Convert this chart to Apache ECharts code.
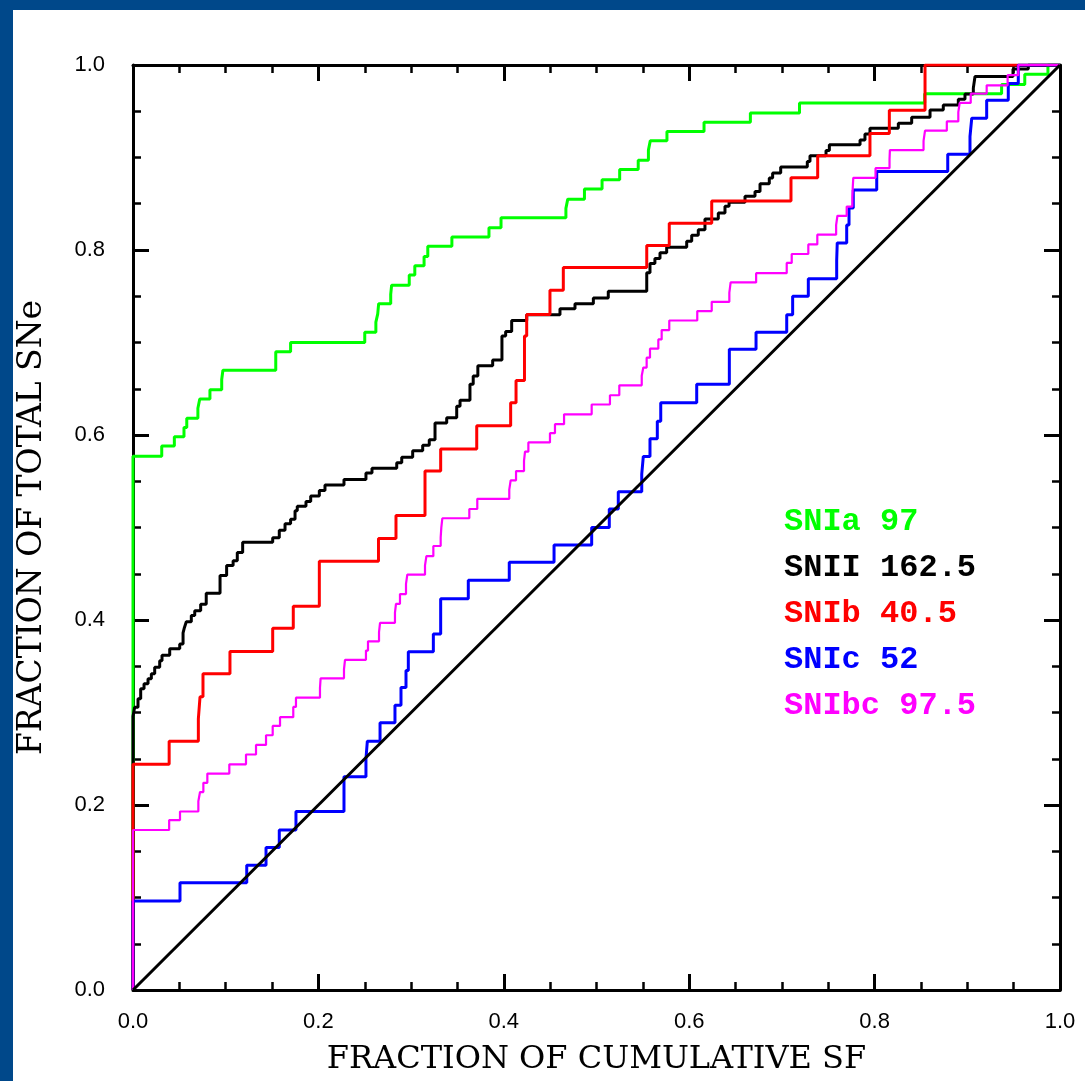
<!DOCTYPE html>
<html lang="en">
<head>
    <meta charset="UTF-8">
    <title>SN fraction vs cumulative SF</title>
    <script src="https://cdn.jsdelivr.net/npm/echarts@6/dist/echarts.min.js"></script>
    <style>
        body { margin: 0; background: #fff; }
        #main { width: 1085px; height: 1081px; }
    </style>
</head>
<body>
<div id="main"></div>
<script>
    // cumulative step curves: x = fraction of cumulative SF, y = fraction of total SNe
    var iaX = [0, 0.031, 0.0446, 0.055, 0.058, 0.070, 0.072, 0.083, 0.0957, 0.097, 0.154, 0.170, 0.250, 0.262, 0.264,
        0.265, 0.278, 0.279, 0.298, 0.304, 0.314, 0.318, 0.344, 0.384, 0.397, 0.467, 0.469, 0.487, 0.506, 0.525,
        0.545, 0.556, 0.558, 0.576, 0.616, 0.666, 0.719, 0.854, 0.937, 0.962, 0.987, 1.0];
    var iaY = [0.577, 0.588, 0.598, 0.608, 0.618, 0.629, 0.639, 0.649, 0.660, 0.670, 0.690, 0.700, 0.711, 0.722, 0.731,
        0.742, 0.752, 0.762, 0.773, 0.783, 0.793, 0.804, 0.814, 0.824, 0.835, 0.845, 0.855, 0.866, 0.876, 0.887,
        0.897, 0.908, 0.918, 0.928, 0.938, 0.948, 0.959, 0.969, 0.979, 0.990, 1.0, 1.0];

    var iiX = [0, 0.0018, 0.0054, 0.0083, 0.0119, 0.0162, 0.0198, 0.0234, 0.0288, 0.0313, 0.0396, 0.0504, 0.054, 0.0555,
        0.0575, 0.0629, 0.0666, 0.073, 0.079, 0.0939, 0.101, 0.108, 0.1125, 0.1183, 0.1507, 0.1578, 0.164, 0.170,
        0.1748, 0.1772, 0.1866, 0.1917, 0.201, 0.2071, 0.2276, 0.2513, 0.2578, 0.2845, 0.2899, 0.3017, 0.3125, 0.3196,
        0.3258, 0.3384, 0.3492, 0.3528, 0.3635, 0.367, 0.372, 0.388, 0.398, 0.402, 0.4085, 0.4247, 0.4606, 0.4768,
        0.4966, 0.5127, 0.5542, 0.5577, 0.563, 0.5685, 0.5757, 0.5973, 0.6027, 0.6098, 0.617, 0.6314, 0.6386, 0.643,
        0.6602, 0.671, 0.6764, 0.6864, 0.69, 0.6987, 0.7274, 0.7303, 0.7476, 0.7512, 0.7843, 0.7896, 0.795, 0.8256,
        0.84, 0.8598, 0.8741, 0.8903, 0.8975, 0.9065, 0.9083, 0.9493, 0.9658, 1.0];
    var iiY = [0.296, 0.3056, 0.315, 0.3258, 0.331, 0.3366, 0.342, 0.349, 0.356, 0.362, 0.369, 0.374, 0.386, 0.392,
        0.398, 0.405, 0.41, 0.417, 0.429, 0.448, 0.459, 0.464, 0.473, 0.484, 0.489, 0.497, 0.504, 0.509,
        0.518, 0.523, 0.528, 0.534, 0.540, 0.546, 0.552, 0.559, 0.564, 0.570, 0.576, 0.583, 0.589, 0.595,
        0.613, 0.6186, 0.631, 0.6375, 0.6548, 0.6637, 0.675, 0.681, 0.707, 0.712, 0.7238, 0.730, 0.7364, 0.742,
        0.748, 0.7555, 0.7753, 0.7853, 0.7907, 0.7969, 0.8029, 0.8094, 0.8159, 0.822, 0.8336, 0.84, 0.8472, 0.8515,
        0.858, 0.8633, 0.8716, 0.8778, 0.8832, 0.8896, 0.8957, 0.9018, 0.9075, 0.9137, 0.919, 0.9255, 0.9317, 0.937,
        0.9435, 0.9514, 0.9568, 0.963, 0.9687, 0.975, 0.9875, 0.9957, 1.0, 1.0];

    var ibX = [0, 0.039, 0.0705, 0.0723, 0.0755, 0.1046, 0.1507, 0.1729, 0.201, 0.2648, 0.2837, 0.315, 0.3319, 0.3708,
        0.4074, 0.4132, 0.4223, 0.4247, 0.4498, 0.4642, 0.5542, 0.5785, 0.6243, 0.7098, 0.7386, 0.795, 0.8159, 0.8544, 1.0];
    var ibY = [0.244, 0.269, 0.293, 0.317, 0.342, 0.366, 0.391, 0.415, 0.4636, 0.488, 0.513, 0.561, 0.585, 0.610,
        0.635, 0.659, 0.707, 0.7303, 0.7565, 0.781, 0.805, 0.829, 0.853, 0.878, 0.902, 0.926, 0.951, 1.0, 1.0];

    var icX = [0, 0.0507, 0.1227, 0.1435, 0.1578, 0.1758, 0.2276, 0.2513, 0.2528, 0.2665, 0.2826, 0.2891, 0.2945, 0.297,
        0.324, 0.3319, 0.3617, 0.4059, 0.4542, 0.4948, 0.5138, 0.5235, 0.5488, 0.5505, 0.5577, 0.5656, 0.5693, 0.6081,
        0.6433, 0.6721, 0.7052, 0.7116, 0.7285, 0.7591, 0.7597, 0.7699, 0.7724, 0.777, 0.8023, 0.8789, 0.9029, 0.9048,
        0.9209, 0.9442, 0.955, 1.0];
    var icY = [0.0963, 0.116, 0.135, 0.154, 0.173, 0.193, 0.2305, 0.250, 0.269, 0.2888, 0.3078, 0.327, 0.3455, 0.3656,
        0.385, 0.423, 0.443, 0.4624, 0.481, 0.500, 0.520, 0.5386, 0.5577, 0.5768, 0.596, 0.615, 0.635, 0.6548,
        0.6926, 0.711, 0.730, 0.750, 0.769, 0.7886, 0.8077, 0.827, 0.8454, 0.865, 0.885, 0.9036, 0.9227, 0.9425,
        0.962, 0.980, 1.0, 1.0];

    var ibcX = [0, 0.039, 0.0507, 0.0705, 0.0723, 0.0759, 0.0802, 0.1039, 0.1219, 0.1327, 0.1435, 0.1507, 0.1586,
        0.1729, 0.1758, 0.2017, 0.2024, 0.2276, 0.2287, 0.2513, 0.2535, 0.2654, 0.2665, 0.2826, 0.2837, 0.288, 0.2945,
        0.2959, 0.315, 0.3165, 0.324, 0.3319, 0.3326, 0.3337, 0.3628, 0.3714, 0.4059, 0.4074, 0.4132, 0.4218, 0.4229,
        0.4265, 0.4498, 0.4552, 0.465, 0.4948, 0.5145, 0.5246, 0.5488, 0.5505, 0.5541, 0.5577, 0.5667, 0.5703, 0.5785,
        0.6087, 0.6243, 0.6433, 0.6447, 0.6722, 0.7052, 0.7106, 0.7285, 0.7382, 0.7585, 0.7599, 0.7699, 0.776, 0.7764,
        0.777, 0.801, 0.8161, 0.8165, 0.8528, 0.8544, 0.8779, 0.8903, 0.8918, 0.9037, 0.9209, 0.9435, 0.955, 1.0];
    var ibcY = [0.173, 0.1837, 0.193, 0.204, 0.214, 0.224, 0.234, 0.244, 0.2546, 0.265, 0.2754, 0.2855, 0.295,
        0.306, 0.316, 0.3265, 0.337, 0.3466, 0.357, 0.367, 0.377, 0.387, 0.397, 0.408, 0.4175, 0.428, 0.439,
        0.449, 0.459, 0.469, 0.48, 0.489, 0.4998, 0.51, 0.52, 0.531, 0.541, 0.551, 0.561, 0.572, 0.582,
        0.592, 0.602, 0.6117, 0.6224, 0.633, 0.643, 0.6537, 0.664, 0.6729, 0.6836, 0.6933, 0.7033, 0.7134, 0.7238,
        0.734, 0.744, 0.754, 0.765, 0.775, 0.786, 0.7957, 0.806, 0.8166, 0.827, 0.837, 0.847, 0.857, 0.867,
        0.878, 0.8885, 0.898, 0.908, 0.918, 0.929, 0.939, 0.949, 0.959, 0.969, 0.978, 0.989, 1.0, 1.0];

    // one-to-one line
    var diagX = [0, 1];
    var diagY = [0, 1];

    var names = ['SNIa 97', 'SNII 162.5', 'SNIb 40.5', 'SNIc 52', 'SNIbc 97.5'];
    var colors = ['#00ff00', '#000000', '#ff0000', '#0000ff', '#ff00ff'];
    var widths = [3, 3, 3, 3, 2.2];
    var curvesX = [iaX, iiX, ibX, icX, ibcX];
    var curvesY = [iaY, iiY, ibY, icY, ibcY];

    function pairs(xs, ys) {
        var out = [];
        for (var i = 0; i < xs.length; i++) {
            out.push([xs[i], ys[i]]);
        }
        return out;
    }

    var series = [];
    for (var i = 0; i < names.length; i++) {
        series.push({
            name: names[i],
            type: 'line',
            step: 'end',
            showSymbol: false,
            symbol: 'none',
            silent: true,
            data: [[0, 0]].concat(pairs(curvesX[i], curvesY[i])),
            lineStyle: { color: colors[i], width: widths[i] },
            itemStyle: { color: colors[i] }
        });
    }
    series.push({
        name: 'diag',
        type: 'line',
        symbol: 'none',
        silent: true,
        data: pairs(diagX, diagY),
        lineStyle: { color: '#000', width: 3 }
    });

    var tickCommon = {
        axisLine: { onZero: false, lineStyle: { color: '#000', width: 3 } },
        axisTick: { inside: true, length: 16, lineStyle: { color: '#000', width: 3 } },
        minorTick: { show: true, splitNumber: 4, length: 8, lineStyle: { color: '#000', width: 2.5 } },
        splitLine: { show: false }
    };

    function axis(extra) {
        var a = { type: 'value', min: 0, max: 1, interval: 0.2 };
        for (var key in tickCommon) a[key] = tickCommon[key];
        for (var key2 in extra) a[key2] = extra[key2];
        return a;
    }

    var labelStyle = {
        formatter: function (v) { return v.toFixed(1); },
        color: '#000',
        fontFamily: 'Liberation Sans',
        fontSize: 22
    };

    var option = {
        animation: false,
        backgroundColor: '#fff',
        graphic: [
            { type: 'rect', shape: { x: 0, y: 0, width: 13, height: 1081 }, style: { fill: '#00488a' } },
            { type: 'rect', shape: { x: 0, y: 0, width: 1085, height: 10 }, style: { fill: '#00488a' } }
        ],
        grid: { left: 133, top: 65, width: 927, height: 927 },
        legend: {
            orient: 'vertical',
            left: 774,
            top: 494,
            icon: 'none',
            itemWidth: 0,
            itemGap: 0,
            selectedMode: false,
            textStyle: { fontFamily: 'Liberation Mono', fontWeight: 'bold', fontSize: 32, lineHeight: 46 },
            data: names.map(function (n, i) {
                return { name: n, textStyle: { color: colors[i] } };
            })
        },
        xAxis: [
            axis({
                position: 'bottom',
                axisLabel: Object.assign({ margin: 21 }, labelStyle),
                name: 'FRACTION OF CUMULATIVE SF',
                nameLocation: 'middle',
                nameGap: 54,
                nameTextStyle: { fontFamily: 'DejaVu Serif', fontSize: 32, color: '#000' }
            }),
            axis({ position: 'top', axisLabel: { show: false } })
        ],
        yAxis: [
            axis({
                position: 'left',
                axisLabel: Object.assign({ margin: 28 }, labelStyle),
                name: 'FRACTION OF TOTAL SNe',
                nameLocation: 'middle',
                nameGap: 84,
                nameTextStyle: { fontFamily: 'DejaVu Serif', fontSize: 33, color: '#000' }
            }),
            axis({ position: 'right', axisLabel: { show: false } })
        ],
        series: series
    };

    var myChart = echarts.init(document.getElementById('main'));
    myChart.setOption(option);
</script>
</body>
</html>
